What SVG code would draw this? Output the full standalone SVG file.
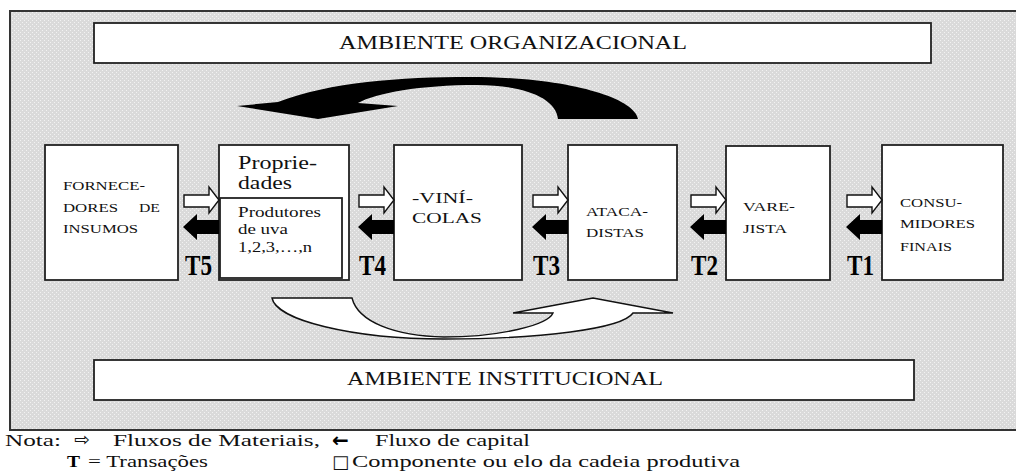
<svg xmlns="http://www.w3.org/2000/svg" xmlns:xlink="http://www.w3.org/1999/xlink" width="1016" height="473" viewBox="0 0 1016 473">
<style>
.box{fill:#fff;stroke:#222;stroke-width:1.8}
.t{font-family:"Liberation Serif","Times New Roman",serif;fill:#111}
.bt{font-family:"Liberation Serif","Times New Roman",serif;font-weight:bold;fill:#000}
.wa{fill:#fff;stroke:#111;stroke-width:1.4;stroke-linejoin:miter}
.ba{fill:#000}
</style>
<defs>
<pattern id="dots" width="4" height="4" patternUnits="userSpaceOnUse">
<rect width="4" height="4" fill="#dadada"/>
<rect width="1" height="1" fill="#f2f2f2"/>
<rect x="2" y="2" width="1" height="1" fill="#f2f2f2"/>
</pattern>
<g id="pair">
<path class="wa" d="M-35,195 L-10,195 L-10,187 L0,200 L-10,213 L-10,207 L-35,207 Z"/>
<path class="ba" d="M0,220 L-22,220 L-22,214 L-36,227 L-22,240 L-22,234 L0,234 Z"/>
</g>
</defs>

<rect x="10" y="11" width="1012" height="419" fill="url(#dots)" stroke="#333" stroke-width="2"/>

<g id="ambiente-organizacional">
<rect class="box" x="94" y="23" width="837" height="40"/>
<text class="t" x="339" y="49" font-size="19" textLength="348" lengthAdjust="spacingAndGlyphs">AMBIENTE ORGANIZACIONAL</text>
</g>

<g id="ambiente-institucional">
<rect class="box" x="94" y="360" width="820" height="40"/>
<text class="t" x="347" y="385" font-size="18" textLength="316" lengthAdjust="spacingAndGlyphs">AMBIENTE INSTITUCIONAL</text>
</g>

<g id="fornecedores">
<rect class="box" x="45" y="145" width="133" height="135"/>
<text class="t" font-size="12.5">
<tspan x="63" y="190" textLength="82" lengthAdjust="spacingAndGlyphs">FORNECE-</tspan>
<tspan x="63" y="212" textLength="55" lengthAdjust="spacingAndGlyphs">DORES</tspan>
<tspan x="139" y="212" textLength="21" lengthAdjust="spacingAndGlyphs">DE</tspan>
<tspan x="63" y="233" textLength="75" lengthAdjust="spacingAndGlyphs">INSUMOS</tspan>
</text>
</g>

<g id="propriedades">
<rect class="box" x="219" y="145" width="130" height="135"/>
<text class="t" font-size="18">
<tspan x="238" y="169" textLength="79" lengthAdjust="spacingAndGlyphs">Proprie-</tspan>
<tspan x="238" y="189" textLength="54" lengthAdjust="spacingAndGlyphs">dades</tspan>
</text>
</g>

<g id="produtores">
<rect class="box" x="220" y="198" width="122" height="80"/>
<text class="t" font-size="14">
<tspan x="238" y="217" textLength="83" lengthAdjust="spacingAndGlyphs">Produtores</tspan>
<tspan x="238" y="234" textLength="50" lengthAdjust="spacingAndGlyphs">de uva</tspan>
<tspan x="238" y="252" textLength="74" lengthAdjust="spacingAndGlyphs">1,2,3,…,n</tspan>
</text>
</g>

<g id="vinicolas">
<rect class="box" x="394" y="145" width="128" height="135"/>
<text class="t" font-size="15.5">
<tspan x="412" y="203" textLength="61" lengthAdjust="spacingAndGlyphs">-VINÍ-</tspan>
<tspan x="412" y="223" textLength="70" lengthAdjust="spacingAndGlyphs">COLAS</tspan>
</text>
</g>

<g id="atacadistas">
<rect class="box" x="568" y="145" width="109" height="135"/>
<text class="t" font-size="12">
<tspan x="586" y="216" textLength="62" lengthAdjust="spacingAndGlyphs">ATACA-</tspan>
<tspan x="586" y="237" textLength="58" lengthAdjust="spacingAndGlyphs">DISTAS</tspan>
</text>
</g>

<g id="varejista">
<rect class="box" x="726" y="146" width="104" height="134"/>
<text class="t" font-size="12">
<tspan x="743" y="211" textLength="52" lengthAdjust="spacingAndGlyphs">VARE-</tspan>
<tspan x="743" y="233" textLength="44" lengthAdjust="spacingAndGlyphs">JISTA</tspan>
</text>
</g>

<g id="consumidores">
<rect class="box" x="882" y="145" width="121" height="135"/>
<text class="t" font-size="12.5">
<tspan x="900" y="207" textLength="62" lengthAdjust="spacingAndGlyphs">CONSU-</tspan>
<tspan x="900" y="228" textLength="75" lengthAdjust="spacingAndGlyphs">MIDORES</tspan>
<tspan x="900" y="251" textLength="52" lengthAdjust="spacingAndGlyphs">FINAIS</tspan>
</text>
</g>

<g id="connectors">
<path fill="#000" d="M237,106 L278,102 C330,82 400,77 470,77 C565,77 634,97 638,119 L558,119 C556,98 524,85 477,85 C420,85 376,93 358,103 L398,106 L318,119 Z"/>
<path fill="#fff" stroke="#111" stroke-width="1.4" d="M272,298 L352,298 C358,322 395,336 444,337 C500,337 548,325 553,313 L513,313 L593,298 L673,313 L633,313 C622,329 540,339 444,339 C352,339 276,320 272,298 Z"/>
<use xlink:href="#pair" x="219" y="0"/>
<use xlink:href="#pair" x="394" y="0"/>
<use xlink:href="#pair" x="568" y="0"/>
<use xlink:href="#pair" x="726" y="0"/>
<use xlink:href="#pair" x="882" y="0"/>
<text class="bt" x="185" y="275" font-size="29" textLength="27" lengthAdjust="spacingAndGlyphs">T5</text>
<text class="bt" x="359" y="275" font-size="29" textLength="27" lengthAdjust="spacingAndGlyphs">T4</text>
<text class="bt" x="533" y="275" font-size="29" textLength="27" lengthAdjust="spacingAndGlyphs">T3</text>
<text class="bt" x="691" y="275" font-size="29" textLength="27" lengthAdjust="spacingAndGlyphs">T2</text>
<text class="bt" x="847" y="275" font-size="29" textLength="27" lengthAdjust="spacingAndGlyphs">T1</text>
</g>

<g id="legenda">
<text class="t" x="5" y="446" font-size="17" textLength="56" lengthAdjust="spacingAndGlyphs">Nota:</text>
<text x="74" y="446" font-family="DejaVu Sans, sans-serif" font-size="19" fill="#111">⇨</text>
<text class="t" x="113" y="446" font-size="17" textLength="207" lengthAdjust="spacingAndGlyphs">Fluxos de Materiais,</text>
<text x="332" y="447" font-family="DejaVu Sans, sans-serif" font-weight="bold" font-size="20" fill="#000">←</text>
<text class="t" x="375" y="446" font-size="17" textLength="155" lengthAdjust="spacingAndGlyphs">Fluxo de capital</text>
<text class="bt" x="67" y="467" font-size="17" textLength="13" lengthAdjust="spacingAndGlyphs">T</text>
<text class="t" x="88" y="467" font-size="17" textLength="120" lengthAdjust="spacingAndGlyphs">= Transações</text>
<text x="332" y="468" font-family="DejaVu Sans, sans-serif" font-size="18" fill="#111">□</text>
<text class="t" x="352" y="467" font-size="17" textLength="388" lengthAdjust="spacingAndGlyphs">Componente ou elo da cadeia produtiva</text>
</g>
</svg>
